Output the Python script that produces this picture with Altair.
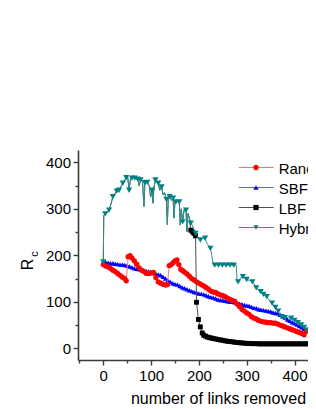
import altair as alt
import pandas as pd

series_names = ["Random", "SBF", "LBF", "Hybrid"]
marker_colors = ["#ff0000", "#0000ff", "#000000", "#008080"]
line_colors = ["#ff7070", "#6060ff", "#505050", "#2a9090"]
marker_shapes = ["circle", "triangle-up", "square", "triangle-down"]
marker_sizes = [28, 26, 24, 38]

x_ticks = [-50, 0, 50, 100, 150, 200, 250, 300, 350, 400, 450]
y_ticks = [0, 50, 100, 150, 200, 250, 300, 350, 400]

random_pts = [(0,180),(5,177),(10,175),(15,172),(20,168),(25,165),(30,161),(35,157),(40,153),(45,150),
              (48,145),(52,197),(56,199),(60,194),(65,188),(70,181),(75,173),(80,168),(85,165),(90,161),
              (95,161),(100,162),(105,163),(110,152),(115,143),(120,140),(125,138),(130,136),(134,137),
              (138,178),(142,180),(146,184),(150,188),(154,190),(158,180),(162,170),(166,167),(170,164),
              (175,160),(180,155),(185,150),(190,147),(195,143),(200,140),(205,137),(210,134),(215,131),
              (220,127),(225,123),(230,121),(235,120),(240,117),(245,115),(250,113),(255,111),(260,108),
              (265,105),(270,103),(275,101),(280,95),(285,90),(290,84),(295,80),(300,76),(305,73),(310,68),
              (315,65),(320,63),(325,60),(330,58),(335,57),(340,56),(345,55),(350,55),(355,54),(360,54),
              (365,52),(370,50),(375,48),(380,46),(385,44),(390,42),(395,40),(400,38),(405,36),(410,34),
              (415,32),(420,29),(425,37),(430,40),(435,40),(440,41)]

sbf_pts = [(0,186),(5,185),(10,184),(15,183),(20,183),(25,182),(30,181),(35,180),(40,180),(45,179),
           (50,178),(55,176),(60,174),(65,172),(70,171),(75,170),(80,169),(85,168),(90,166),(95,165),
           (100,164),(105,162),(110,160),(115,159),(120,157),(125,154),(130,150),(135,146),(140,143),
           (145,140),(150,138),(155,137),(160,134),(165,131),(170,129),(175,127),(180,125),(185,123),
           (190,121),(195,120),(200,118),(205,117),(210,116),(215,114),(220,112),(225,110),(230,109),
           (235,107),(240,105),(245,104),(250,103),(255,102),(260,101),(265,100),(270,100),(275,99),
           (280,97),(285,96),(290,95),(295,93),(300,92),(305,91),(310,89),(315,87),(320,86),(325,84),
           (330,83),(335,82),(340,81),(345,80),(350,79),(355,77),(360,76),(365,75),(370,72),(375,69),
           (380,66),(385,62),(390,59),(395,56),(400,54),(405,51),(410,48),(415,45),(420,42),(425,40),
           (430,38),(435,37),(440,36)]

hybrid_line = [(0,186),(1,286),(4,289),(8,292),(12,297),(16,310),(20,326),(24,332),(28,338),(33,340),
               (37,348),(41,355),(44,360),(48,367),(51,368),(54,340),(57,365),(60,366),(63,367),(66,366),
               (69,364),(72,364),(75,350),(78,362),(82,360),(85,305),(87,356),(92,357),(96,350),(99,325),
               (102,340),(104,312),(106,345),(109,362),(112,358),(115,355),(118,340),(122,347),(125,330),
               (128,335),(132,320),(134,266),(136,328),(139,326),(143,318),(146,323),(148,280),(150,318),
               (152,315),(156,316),(159,315),(161,265),(163,300),(166,272),(169,298),(173,297),(175,251),
               (177,290),(180,280),(183,269),(186,265),(190,255),(193,247),(197,240),(200,236),(203,233),
               (207,238),(210,236),(213,237),(217,225),(220,222),(224,215),(227,200),(230,179),(278,179),
               (280,143),(282,143),(286,150),(292,154),(296,150),(300,148),(306,146),(312,143),(316,138),
               (320,130),(325,126),(329,122),(335,116),(342,111),(347,104),(353,97),(357,92),(360,88),
               (364,84),(366,80),(370,72),(373,68),(377,67),(380,66),(385,66),(390,65),(393,65),(400,60),
               (407,55),(414,50),(420,45),(427,39),(435,37),(440,36)]

hybrid_marks = [(0,186),(4,289),(12,297),(20,326),(28,338),(33,340),(41,355),(48,367),(54,340),(60,366),
                (66,366),(72,364),(78,362),(87,356),(92,357),(102,340),(109,362),(115,355),(122,347),
                (132,320),(139,326),(146,323),(152,315),(159,315),(166,272),(173,297),(183,269),(193,247),
                (203,233),(213,237),(224,215),(233,179),(241,179),(249,179),(257,179),(265,179),(273,179),
                (282,143),(292,154),(300,148),(312,143),(320,130),(329,122),(335,116),(342,111),(353,97),
                (360,88),(366,80),(373,68),(380,66),(393,65),(400,60),(407,55),(414,50),(420,45),(427,39)]

lbf_tail = [(183,254),(187,250),(190,247),(193,242),(195,99),(199,62),(203,46),(207,33),(210,28),(214,26),
            (218,24),(222,23),(226,22),(230,21),(235,20),(240,19),(245,18),(250,17),(255,16),(260,15),
            (265,14.5),(270,14),(275,13),(280,12.5),(285,12),(290,11.5),(295,11),(300,10.5),(305,10.5),
            (310,10),(315,10),(320,10),(325,9.5),(330,9.5),(335,9.5),(340,9.5),(345,9.5),(350,9.5),
            (355,9.5),(360,9.5),(365,9.5),(370,9.5),(375,9.5),(380,9.5),(385,9.5),(390,9.5),(395,9.5),
            (400,9.5),(405,9.5),(410,9.5),(415,9.5),(420,9.5),(425,9.5),(430,9.5),(435,9.5),(440,9.5)]

lbf_line = [p for p in hybrid_line if p[0] < 183] + lbf_tail
lbf_marks = lbf_tail

series_lines = {"Random": random_pts, "SBF": sbf_pts, "LBF": lbf_line, "Hybrid": hybrid_line}
series_marks = {"Random": random_pts, "SBF": sbf_pts, "LBF": lbf_marks, "Hybrid": hybrid_marks}

FONT = "Liberation Sans"
xs = alt.Scale(domain=[-52.9, 428.2], nice=False, zero=False)
ys = alt.Scale(domain=[-25.2, 426.5], nice=False, zero=False)
tick_expr = {"expr": "datum.value % 100 === 0 ? 5 : 3"}
label_expr = "datum.value % 100 === 0 ? datum.label : ''"

x_axis = alt.Axis(values=x_ticks, title="number of links removed", labelExpr=label_expr,
                  tickSize=tick_expr, labelPadding=3, labelOverlap=False, labelFlush=False,
                  titleX=140, titleY=43, titleBaseline="alphabetic", titleAlign="center", grid=False)
y_axis = alt.Axis(values=y_ticks, title="R", labelExpr=label_expr, tickSize=tick_expr,
                  labelPadding=2.5, labelOverlap=False, titleX=-45.5, titleY=114, titleAngle=270,
                  titleBaseline="alphabetic", titleAlign="center", grid=False)

draw_order = ["SBF", "Random", "LBF", "Hybrid"]
layers = []
for name in draw_order:
    i = series_names.index(name)
    ldf = pd.DataFrame(series_lines[name], columns=["x", "y"])
    ldf["idx"] = range(len(ldf))
    mdf = pd.DataFrame(series_marks[name], columns=["x", "y"])
    line = alt.Chart(ldf).mark_line(color=line_colors[i], strokeWidth=1, clip=True).encode(
        x=alt.X("x:Q", scale=xs, axis=x_axis),
        y=alt.Y("y:Q", scale=ys, axis=y_axis),
        order="idx:Q",
    )
    pts = alt.Chart(mdf).mark_point(shape=marker_shapes[i], size=marker_sizes[i], filled=True,
                                    color=marker_colors[i], opacity=1, clip=True).encode(
        x=alt.X("x:Q", scale=xs, axis=x_axis),
        y=alt.Y("y:Q", scale=ys, axis=y_axis),
    )
    layers += [line, pts]
data_group = alt.layer(*layers)

leg_df = pd.DataFrame({"series": series_names, "pos": list(range(len(series_names)))})
leg_y = alt.Y("pos:Q", scale=alt.Scale(domain=[0, 3], range=[17.5, 77.5]), axis=None)
leg_rule = alt.Chart(leg_df).mark_rule(strokeWidth=1).encode(
    x=alt.value(160.7), x2=alt.value(195.7), y=leg_y,
    stroke=alt.Stroke("series:N", scale=alt.Scale(domain=series_names, range=line_colors), legend=None),
)
leg_pts = alt.Chart(leg_df).mark_point(filled=True, opacity=1).encode(
    x=alt.value(178), y=leg_y,
    fill=alt.Fill("series:N", scale=alt.Scale(domain=series_names, range=marker_colors), legend=None),
    shape=alt.Shape("series:N", scale=alt.Scale(domain=series_names, range=marker_shapes), legend=None),
    size=alt.Size("series:N", scale=alt.Scale(domain=series_names, range=marker_sizes), legend=None),
)
leg_text = alt.Chart(leg_df).mark_text(align="left", baseline="middle", font=FONT, fontSize=15,
                                       color="black", dy=1).encode(
    x=alt.value(200.7), y=leg_y, text="series:N",
)
sub_df = pd.DataFrame({"t": ["c"]})
sub_text = alt.Chart(sub_df).mark_text(angle=270, align="center", baseline="alphabetic", font=FONT,
                                       fontSize=11, color="black").encode(
    x=alt.value(-39.7), y=alt.value(104), text="t:N",
)
legend_group = alt.layer(leg_rule, leg_pts, leg_text, sub_text)

chart = alt.layer(data_group, legend_group).resolve_scale(
    y="independent"
).properties(
    width=230, height=210,
    autosize=alt.AutoSizeParams(type="none"),
    padding={"left": 70, "top": 142, "right": 0, "bottom": 45},
).configure_view(stroke=None).configure_axis(
    domainColor="#3c3c3c", domainWidth=1.6, tickColor="#3c3c3c", tickWidth=1.4,
    labelFont=FONT, labelFontSize=15, labelColor="black",
    titleFont=FONT, titleFontSize=16, titleFontWeight="normal", titleColor="black",
)

chart.save("out.html", embed_options={"renderer": "svg", "actions": False})
